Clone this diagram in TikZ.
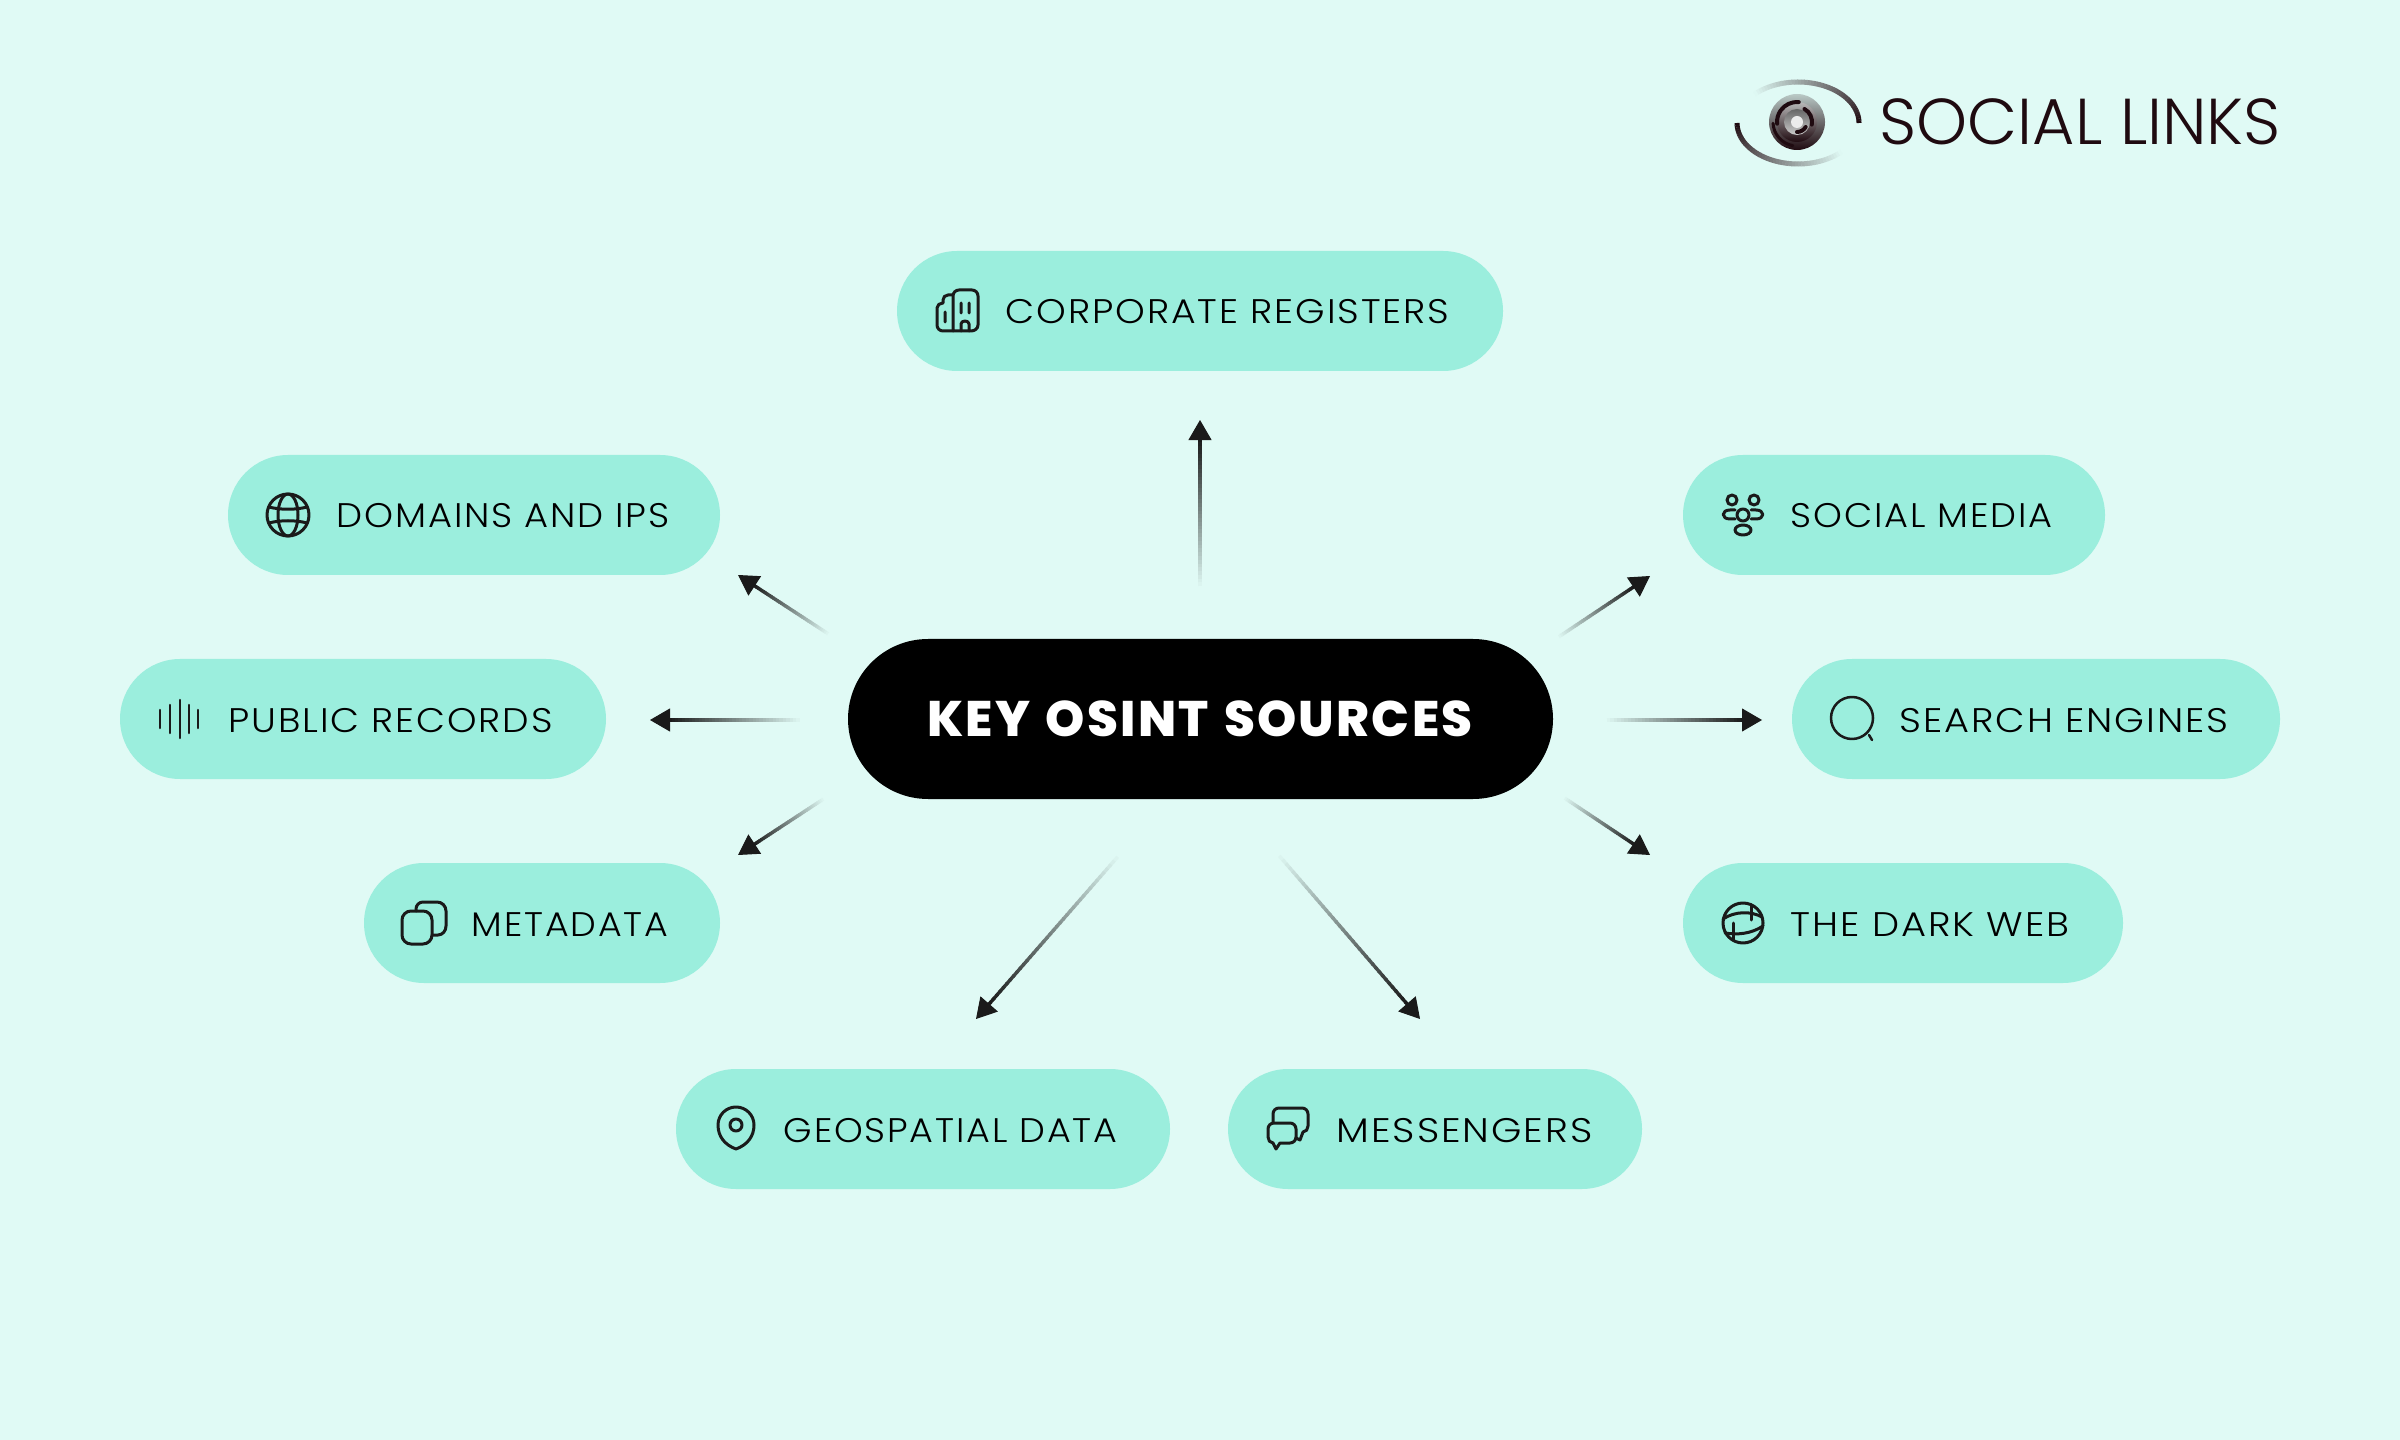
\documentclass[tikz,border=0pt]{standalone}
\usepackage{fontspec}
\setmainfont{Poppins Light}
\newfontfamily\labelfont[LetterSpace=5.5,FakeStretch=1.1]{Poppins Light}
\newfontfamily\titlefont[LetterSpace=4.5,WordSpace=1.3]{Poppins ExtraBold}
\usetikzlibrary{arrows.meta,calc}

\definecolor{bgcol}{HTML}{E0FAF5}
\definecolor{pillcol}{HTML}{9BEEDD}
\definecolor{inkcol}{HTML}{1A1A1A}
\definecolor{logocol}{HTML}{1F0A10}

\tikzset{
    sourcepill/.style={fill=pillcol, rounded corners=0.6cm},
    centerpill/.style={fill=black, rounded corners=0.8cm},
    sourcelabel/.style={anchor=base west, inner sep=0pt, text=black, font=\labelfont\fontsize{9.7}{12}\selectfont},
    icon/.style={draw=inkcol, line width=0.03cm, line cap=round, line join=round},
    fadetip/.style={draw=bgcol, -{Triangle[length=0.2cm, width=0.23cm, fill=inkcol, color=inkcol]}, line width=0.01cm},
    irisarc/.style={draw=logocol, line width=0.04cm, line cap=round},
}

\begin{document}
\begin{tikzpicture}[x=0.01cm, y=-0.01cm]

    \useasboundingbox (0,0) rectangle (2400,1440);
    \fill[bgcol] (0,0) rectangle (2400,1440);

    % pill: left edge, top, right edge, then the label
    \fill[centerpill] (848,639) rectangle (1553,799);
    \node[anchor=base, inner sep=0pt, text=white, font=\titlefont\fontsize{14.2}{16}\selectfont] (center) at (1200,737) {KEY OSINT SOURCES};

    \foreach \xa/\ya/\xb/\name/\txt/\tx/\fx in {
        897/251/1503/corp/CORPORATE REGISTERS/1005/1.007,
        228/455/720/dom/DOMAINS AND IPS/336/0.982,
        120/659/606/pub/PUBLIC RECORDS/228/1,
        364/863/720/meta/METADATA/471/0.97,
        676/1069/1170/geo/GEOSPATIAL DATA/783/0.973,
        1228/1069/1642/msg/MESSENGERS/1336/1.037,
        1683/863/2123/dark/THE DARK WEB/1790/1.022,
        1683/455/2105/soc/SOCIAL MEDIA/1790/0.977,
        1792/659/2280/sea/SEARCH ENGINES/1899/1.019}
    {
        \fill[sourcepill] (\xa,\ya) rectangle (\xb,\ya+120);
        \node[sourcelabel] (\name) at (\tx,\ya+73) {\scalebox{\fx}[1]{\txt}};
    }

    % arrow ends
    \coordinate (corpTail) at (1200,590);  \coordinate (corpTip) at (1200,420);
    \coordinate (domTail) at (830,635);    \coordinate (domTip) at (738,575);
    \coordinate (pubTail) at (803,720);    \coordinate (pubTip) at (650,720);
    \coordinate (metaTail) at (825,798);   \coordinate (metaTip) at (738,855);
    \coordinate (geoTail) at (1121,853);   \coordinate (geoTip) at (976,1019);
    \coordinate (msgTail) at (1276,852);   \coordinate (msgTip) at (1420,1019);
    \coordinate (darkTail) at (1563,797);  \coordinate (darkTip) at (1650,855);
    \coordinate (socTail) at (1557,638);   \coordinate (socTip) at (1650,576);
    \coordinate (seaTail) at (1603,720);   \coordinate (seaTip) at (1762,720);

    % stem fades in small steps up to the tip
    \foreach \src/\tgt/\stop in {corpTail/corpTip/0.89, domTail/domTip/0.84, pubTail/pubTip/0.88, metaTail/metaTip/0.83,
        geoTail/geoTip/0.92, msgTail/msgTip/0.92, darkTail/darkTip/0.83, socTail/socTip/0.83, seaTail/seaTip/0.89}
    {
        \draw[fadetip] (\src) -- (\tgt);
        \foreach \k in {0,...,39}
        {
            \pgfmathsetmacro{\mixv}{\k*100/39}
            \pgfmathsetmacro{\ta}{\k/40*\stop}
            \pgfmathsetmacro{\tb}{(\k+1.4)/40*\stop}
            \draw[line width=0.034cm, color=inkcol!\mixv!bgcol] ($(\src)!\ta!(\tgt)$) -- ($(\src)!\tb!(\tgt)$);
        }
    }

    % icons
    \begin{scope}[shift={(957,311)}]
        \draw[icon] (-4,20) -- (14,20) to[out=0,in=-90] (21,14) -- (21,-15) to[out=90,in=0] (15,-21) -- (2,-21) to[out=180,in=90] (-4,-15) -- cycle;
        \draw[icon] (-4,20) -- (-14,20) to[out=180,in=-90] (-20,14) -- (-20,-3) to[out=90,in=180] (-14,-8) -- (-14,-11) to[out=90,in=180] (-9,-16) -- (-4,-16);
        \draw[icon] (-12,1) -- (-12,11) (4,-8) -- (4,2) (12,-8) -- (12,2) (4,20) -- (4,13) to[out=90,in=180] (8,10) to[out=0,in=90] (12,13) -- (12,20);
    \end{scope}
    \begin{scope}[shift={(288,515)}]
        \draw[icon] (0,0) circle (21);
        \draw[icon] (0,0) ellipse (10 and 21);
        \draw[icon] (-19,-8) .. controls (-8,-5) and (8,-5) .. (19,-8) (-19,8) .. controls (-8,5) and (8,5) .. (19,8);
    \end{scope}
    \begin{scope}[shift={(180,719)}]
        \foreach \xp/\h in {-20/9, -10/14, 0/19, 9/14, 18/9}
            \draw[icon, line width=0.025cm] (\xp,-\h) -- (\xp,\h);
    \end{scope}
    \begin{scope}[shift={(424,923)}]
        \draw[icon, rounded corners=0.09cm] (-22,-12) rectangle (8,21);
        \draw[icon] (-8,-12) -- (-8,-14) to[out=90,in=180] (-1,-21) -- (13,-21) to[out=0,in=90] (22,-12) -- (22,3) to[out=-90,in=0] (14,12) -- (8,12);
    \end{scope}
    \begin{scope}[shift={(736,1128)}]
        \draw[icon] (0,21) to[out=160,in=-90] (-18,-3) to[out=90,in=180] (0,-21) to[out=0,in=90] (18,-3) to[out=-90,in=20] cycle;
        \draw[icon] (0,-3) circle (6);
    \end{scope}
    \begin{scope}[shift={(1288,1129)}]
        \draw[icon] (-20,0) to[out=90,in=180] (-14,-6) -- (2,-6) to[out=0,in=90] (8,0) -- (8,8) to[out=-90,in=0] (2,14) -- (-8,14) -- (-12,20) -- (-15,14) to[out=180,in=-90] (-20,8) -- cycle;
        \draw[icon] (-15,-6) -- (-15,-15) to[out=90,in=180] (-9,-21) -- (14,-21) to[out=0,in=90] (20,-15) -- (20,-3) to[out=-90,in=0] (15,3) -- (12,11) -- (8,9);
    \end{scope}
    \begin{scope}[shift={(1743,923)}]
        \draw[icon] (0,0) circle (20);
        \draw[icon] (-20,-4) .. controls (-8,-12) and (8,-12) .. (19,-6) (-18,10) .. controls (-6,12) and (8,11) .. (20,3);
        \draw[icon] (8,-18) -- (8,-3) (-10,0) -- (-10,17);
    \end{scope}
    \begin{scope}[shift={(1743,515)}]
        \draw[icon] (-11,-15) circle (5) (11,-15) circle (5) (0,0) circle (6) (0,15) ellipse (8 and 5);
        \draw[icon] (-8,-5) -- (-13,-5) .. controls (-22,-5) and (-22,4) .. (-13,4) -- (-8,4);
        \draw[icon] (8,-5) -- (13,-5) .. controls (22,-5) and (22,4) .. (13,4) -- (8,4);
    \end{scope}
    \begin{scope}[shift={(1852,718)}]
        \draw[icon, line width=0.025cm] (0,0) circle (21);
        \draw[icon, line width=0.025cm] (17,17) -- (20,22);
    \end{scope}

    % logo
    \node[anchor=base west, inner sep=0pt, text=logocol, font=\fontsize{18.45}{20}\selectfont] (logo) at (1879,145) {SOCIAL LINKS};
    \foreach \a in {0,3,...,132}
    {
        \pgfmathsetmacro{\mixv}{100-\a*0.75}
        \draw[line width=0.05cm, color=logocol!\mixv!bgcol] ({1798+61*cos(\a)},{123-41*sin(\a)}) -- ({1798+61*cos(\a+3.4)},{123-41*sin(\a+3.4)})
             ({1798-61*cos(\a)},{123+41*sin(\a)}) -- ({1798-61*cos(\a+3.4)},{123+41*sin(\a+3.4)});
    }
    \begin{scope}[shift={(1797,122)}, y=0.01cm]
        \shade[shading angle=-45, top color=bgcol!60!gray, bottom color=logocol] (0,0) circle (28);
        \shade[shading angle=-45, top color=gray!55, bottom color=logocol] (0,0) circle (20);
        \shade[shading angle=-45, top color=gray!80!black, bottom color=gray!40] (0,0) circle (13);
        \fill[white!85!gray] (0,0) circle (6);
        \draw[irisarc] (85:20) arc[start angle=85, end angle=185, radius=20];
        \draw[irisarc] (60:15) arc[start angle=60, end angle=-10, radius=15];
        \draw[irisarc] (-90:10) arc[start angle=-90, end angle=-30, radius=10];
        \draw[irisarc, line width=0.03cm] (183:24) arc[start angle=183, end angle=260, radius=24];
    \end{scope}
\end{tikzpicture}
\end{document}
